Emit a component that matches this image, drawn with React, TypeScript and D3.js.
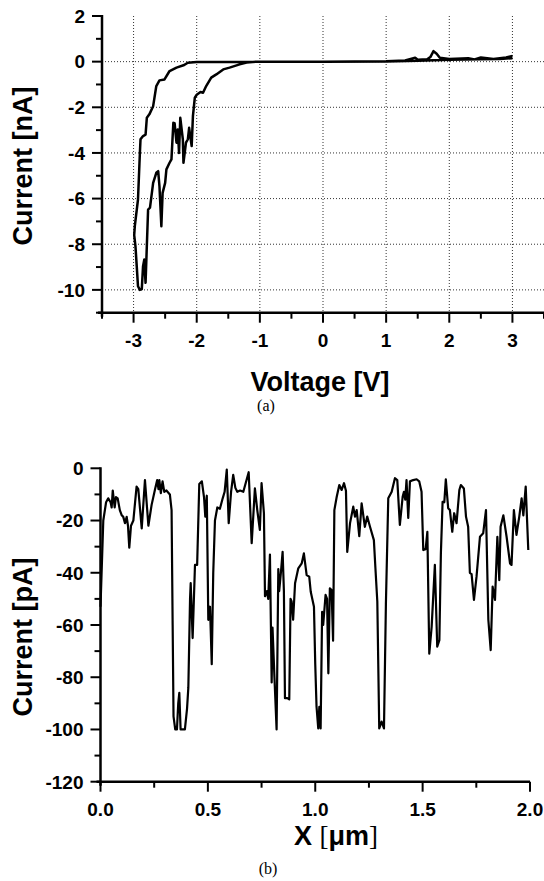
import * as d3 from "d3";
import { useEffect, useRef } from "react";

// (a) I-V sweep, [voltage V, current nA], drawn as one continuous path
const ivSweep: [number, number][] = [
  [3.0, 0.15], [2.8, 0.12], [2.5, 0.1], [2.0, 0.08], [1.5, 0.04], [1.0, 0.01], [0, 0], [-1, 0],
  [-2.0, -0.02], [-2.14, -0.05], [-2.21, -0.16], [-2.32, -0.26], [-2.43, -0.41], [-2.51, -0.78],
  [-2.59, -0.82], [-2.64, -1.07], [-2.69, -1.95], [-2.75, -2.31], [-2.79, -2.46], [-2.81, -3.2],
  [-2.85, -3.26], [-2.89, -3.4], [-2.9, -4.0], [-2.93, -6.04], [-2.98, -7.2], [-2.99, -7.6],
  [-2.97, -8.09], [-2.95, -8.96], [-2.93, -9.84], [-2.9, -10], [-2.87, -9.97], [-2.85, -8.96],
  [-2.83, -8.67], [-2.82, -9.25], [-2.81, -9.69], [-2.77, -6.48], [-2.74, -6.4], [-2.69, -5.31],
  [-2.64, -4.87], [-2.61, -4.8], [-2.59, -5.46], [-2.56, -7.21], [-2.54, -5.75], [-2.5, -5.31],
  [-2.48, -4.72], [-2.43, -4.43], [-2.4, -4.28], [-2.37, -2.68], [-2.35, -2.7], [-2.32, -3.55],
  [-2.3, -2.97], [-2.28, -4.0], [-2.26, -2.46], [-2.22, -3.4], [-2.21, -4.43], [-2.17, -3.55],
  [-2.14, -3.4], [-2.12, -2.9], [-2.08, -3.7], [-2.06, -2.39], [-2.03, -1.58], [-2.0, -1.45],
  [-1.94, -1.33], [-1.9, -1.36], [-1.85, -1.07], [-1.77, -0.7], [-1.69, -0.56], [-1.58, -0.34],
  [-1.48, -0.26], [-1.32, -0.12], [-1.21, -0.04], [-1.06, 0], [0, 0], [1.0, 0.02], [1.3, 0.05],
  [1.46, 0.17], [1.5, 0.08], [1.65, 0.1], [1.7, 0.2], [1.75, 0.46], [1.8, 0.35], [1.85, 0.17],
  [2.0, 0.12], [2.3, 0.15], [2.4, 0.1], [2.5, 0.18], [2.7, 0.12], [2.9, 0.18], [3.0, 0.25],
];

// (b) line scan, [x µm, current pA]
const lineScan: [number, number][] = [
  [0.0, -53], [0.013, -20], [0.026, -13], [0.036, -11.5], [0.047, -13], [0.052, -15], [0.057, -8.5],
  [0.066, -15], [0.072, -11], [0.08, -11.5], [0.09, -16], [0.099, -18], [0.106, -18.6], [0.114, -21],
  [0.122, -18.6], [0.128, -22], [0.134, -30.4], [0.142, -22], [0.153, -20], [0.168, -7], [0.176, -8],
  [0.192, -23], [0.207, -4.5], [0.223, -22], [0.238, -14], [0.254, -8], [0.264, -4.5], [0.27, -8],
  [0.274, -4.5], [0.281, -9.5], [0.289, -5], [0.297, -9], [0.307, -8.5], [0.323, -10], [0.331, -16],
  [0.336, -60], [0.34, -95], [0.348, -100], [0.356, -100], [0.362, -90], [0.367, -86], [0.373, -100],
  [0.393, -100], [0.403, -92], [0.409, -84], [0.417, -50], [0.42, -44], [0.429, -65], [0.44, -37],
  [0.45, -37], [0.46, -6], [0.472, -5], [0.482, -11], [0.488, -18.5], [0.495, -10.5], [0.502, -58],
  [0.51, -53], [0.518, -75], [0.525, -40], [0.533, -20], [0.544, -15], [0.556, -15.5], [0.569, -11.5],
  [0.578, -9], [0.588, -0.5], [0.597, -21], [0.608, -9], [0.618, -2.5], [0.628, -7.5], [0.637, -9],
  [0.65, -8.5], [0.665, -9], [0.69, -1.5], [0.704, -28.7], [0.719, -7.7], [0.73, -16], [0.742, -23.6],
  [0.75, -5.7], [0.761, -17.2], [0.766, -49], [0.775, -47], [0.781, -50], [0.789, -33], [0.797, -82],
  [0.801, -61], [0.81, -80], [0.82, -100], [0.828, -38.6], [0.832, -47], [0.84, -40], [0.848, -32],
  [0.854, -47], [0.859, -88], [0.87, -88], [0.879, -88.5], [0.885, -50], [0.89, -51], [0.897, -58],
  [0.906, -44], [0.921, -38.3], [0.937, -36.4], [0.947, -32.6], [0.96, -40.9], [0.972, -41.5],
  [0.979, -47.3], [0.994, -53], [1.0, -75], [1.006, -91.3], [1.014, -99.6], [1.019, -91.3],
  [1.025, -99.6], [1.032, -55], [1.037, -60], [1.048, -48.5], [1.055, -50], [1.061, -78.5],
  [1.068, -46], [1.076, -46.6], [1.083, -66], [1.089, -16], [1.1, -10.9], [1.112, -6.4], [1.123, -8.3],
  [1.134, -5.7], [1.143, -8.6], [1.149, -32], [1.162, -21], [1.177, -14.7], [1.185, -18.5],
  [1.193, -16], [1.205, -26], [1.216, -13.4], [1.231, -22.4], [1.242, -18.5], [1.255, -22.4],
  [1.273, -27.5], [1.28, -38], [1.289, -51], [1.298, -99.6], [1.309, -97], [1.32, -99.6], [1.329, -52],
  [1.34, -11.5], [1.356, -9], [1.371, -3.8], [1.382, -4.5], [1.394, -21.7], [1.407, -10.9], [1.413, -9],
  [1.419, -12], [1.425, -4.5], [1.433, -19], [1.441, -5], [1.456, -4.5], [1.472, -4.2], [1.484, -5],
  [1.495, -9], [1.503, -31.3], [1.514, -31], [1.522, -24.3], [1.531, -71], [1.542, -60.7], [1.557, -37],
  [1.568, -68.3], [1.578, -65.8], [1.585, -32.6], [1.593, -12.8], [1.601, -13], [1.608, -4.2],
  [1.619, -15.3], [1.627, -16], [1.638, -24.3], [1.647, -17.2], [1.658, -21], [1.671, -8.3],
  [1.678, -6.4], [1.692, -7.7], [1.702, -18.5], [1.712, -22.4], [1.72, -40], [1.728, -40.5],
  [1.739, -50.4], [1.751, -41.5], [1.767, -26.2], [1.782, -24.9], [1.795, -16], [1.806, -58],
  [1.817, -69.6], [1.826, -45.3], [1.837, -50.4], [1.848, -26.2], [1.857, -42.8], [1.863, -22.4],
  [1.876, -18], [1.891, -26.2], [1.907, -36.4], [1.914, -37], [1.925, -16], [1.937, -25.5],
  [1.95, -18.5], [1.961, -11.5], [1.969, -18], [1.98, -7], [1.992, -31.3],
];

const voltTicks = [-3, -2, -1, 0, 1, 2, 3];
const voltMinor = [-3.5, -2.5, -1.5, -0.5, 0.5, 1.5, 2.5, 3.5];
const nAticks = [2, 0, -2, -4, -6, -8, -10];
const nAminor = [1, -1, -3, -5, -7, -9, -11];
const nAgrid = [0, -2, -4, -6, -8, -10];

const posTicks = [0, 0.5, 1.0, 1.5, 2.0];
const posMinor = [0.25, 0.75, 1.25, 1.75];
const pAticks = [0, -20, -40, -60, -80, -100, -120];
const pAminor = [-10, -30, -50, -70, -90, -110];

const SANS = "'Liberation Sans', Arial, sans-serif";
const SERIF = "'Liberation Serif', 'Times New Roman', serif";

function drawAxes(svg, x, y, o) {
  const g = svg.append("g");
  const [x0, x1] = x.range();
  const [y0, y1] = y.range(); // y0 bottom, y1 top
  o.xMajor.forEach((v) => {
    g.append("line").attr("x1", x(v)).attr("x2", x(v)).attr("y1", y0).attr("y2", y0 + 10)
      .attr("stroke", "#000").attr("stroke-width", 2);
    g.append("text").attr("x", x(v)).attr("y", y0 + 34).attr("text-anchor", "middle")
      .attr("font-family", SANS).attr("font-weight", "bold").attr("font-size", o.fs)
      .text(o.xFmt(v));
  });
  o.xMinor.forEach((v) => {
    g.append("line").attr("x1", x(v)).attr("x2", x(v)).attr("y1", y0).attr("y2", y0 + 6)
      .attr("stroke", "#000").attr("stroke-width", 2);
  });
  o.yMajor.forEach((v) => {
    g.append("line").attr("x1", x0 - 10).attr("x2", x0).attr("y1", y(v)).attr("y2", y(v))
      .attr("stroke", "#000").attr("stroke-width", 2);
    g.append("text").attr("x", x0 - 17).attr("y", y(v)).attr("dy", "0.36em").attr("text-anchor", "end")
      .attr("font-family", SANS).attr("font-weight", "bold").attr("font-size", o.fs)
      .text(String(v));
  });
  o.yMinor.forEach((v) => {
    g.append("line").attr("x1", x0 - 6).attr("x2", x0).attr("y1", y(v)).attr("y2", y(v))
      .attr("stroke", "#000").attr("stroke-width", 2);
  });
  g.append("line").attr("x1", x0).attr("x2", x0).attr("y1", y1 - 1).attr("y2", y0 + 4)
    .attr("stroke", "#000").attr("stroke-width", 2.5);
  g.append("line").attr("x1", x0 - 4).attr("x2", x1).attr("y1", y0).attr("y2", y0)
    .attr("stroke", "#000").attr("stroke-width", 2.5);
}

function App() {
  const ref = useRef(null);

  useEffect(() => {
    const svg = d3.select(ref.current);
    svg.selectAll("*").remove();

    // ---------- (a) ----------
    const xA = d3.scaleLinear().domain([-3.5, 3.5]).range([102, 544]);
    const yA = d3.scaleLinear().domain([-11, 2]).range([312.7, 16]);

    const grid = svg.append("g").attr("stroke", "#333").attr("stroke-width", 1)
      .attr("stroke-dasharray", "1,2");
    voltTicks.forEach((v) => {
      grid.append("line").attr("x1", xA(v)).attr("x2", xA(v)).attr("y1", yA(2)).attr("y2", yA(-11));
    });
    nAgrid.forEach((v) => {
      grid.append("line").attr("x1", xA(-3.5)).attr("x2", 544).attr("y1", yA(v)).attr("y2", yA(v));
    });

    const lineA = d3.line().x((d) => xA(d[0])).y((d) => yA(d[1]));
    svg.append("path").datum(ivSweep).attr("d", lineA).attr("fill", "none")
      .attr("stroke", "#000").attr("stroke-width", 2.5).attr("stroke-linejoin", "round");

    drawAxes(svg, xA, yA, {
      xMajor: voltTicks, xMinor: voltMinor, yMajor: nAticks, yMinor: nAminor,
      xFmt: (v) => String(v), fs: 19,
    });

    svg.append("text").attr("transform", "translate(32,166) rotate(-90)").attr("text-anchor", "middle")
      .attr("font-family", SANS).attr("font-weight", "bold").attr("font-size", 27).text("Current [nA]");
    svg.append("text").attr("x", 320).attr("y", 391).attr("text-anchor", "middle")
      .attr("font-family", SANS).attr("font-weight", "bold").attr("font-size", 27).text("Voltage [V]");
    svg.append("text").attr("x", 266).attr("y", 411).attr("text-anchor", "middle")
      .attr("font-family", SERIF).attr("font-size", 16).text("(a)");

    // ---------- (b) ----------
    const xB = d3.scaleLinear().domain([0, 2]).range([100.5, 530]);
    const yB = d3.scaleLinear().domain([-120, 0]).range([781.7, 468.3]);

    const lineB = d3.line().x((d) => xB(d[0])).y((d) => yB(d[1]));
    svg.append("path").datum(lineScan).attr("d", lineB).attr("fill", "none")
      .attr("stroke", "#000").attr("stroke-width", 2.2).attr("stroke-linejoin", "round");

    drawAxes(svg, xB, yB, {
      xMajor: posTicks, xMinor: posMinor, yMajor: pAticks, yMinor: pAminor,
      xFmt: (v) => d3.format(".1f")(v), fs: 19,
    });

    svg.append("text").attr("transform", "translate(32,637) rotate(-90)").attr("text-anchor", "middle")
      .attr("font-family", SANS).attr("font-weight", "bold").attr("font-size", 27).text("Current [pA]");

    const xt = svg.append("text").attr("x", 336).attr("y", 845).attr("text-anchor", "middle")
      .attr("font-family", SANS).attr("font-size", 27);
    xt.append("tspan").attr("font-weight", "bold").text("X ");
    xt.append("tspan").attr("font-family", SERIF).attr("font-weight", "normal").text("[");
    xt.append("tspan").attr("font-weight", "bold").text("μm");
    xt.append("tspan").attr("font-family", SERIF).attr("font-weight", "normal").text("]");

    svg.append("text").attr("x", 268).attr("y", 874).attr("text-anchor", "middle")
      .attr("font-family", SERIF).attr("font-size", 16).text("(b)");
  }, []);

  return (
    <svg ref={ref} width={544} height={881}
      style={{ position: "absolute", left: 0, top: 0, background: "#fff" }} />
  );
}

export default App;
